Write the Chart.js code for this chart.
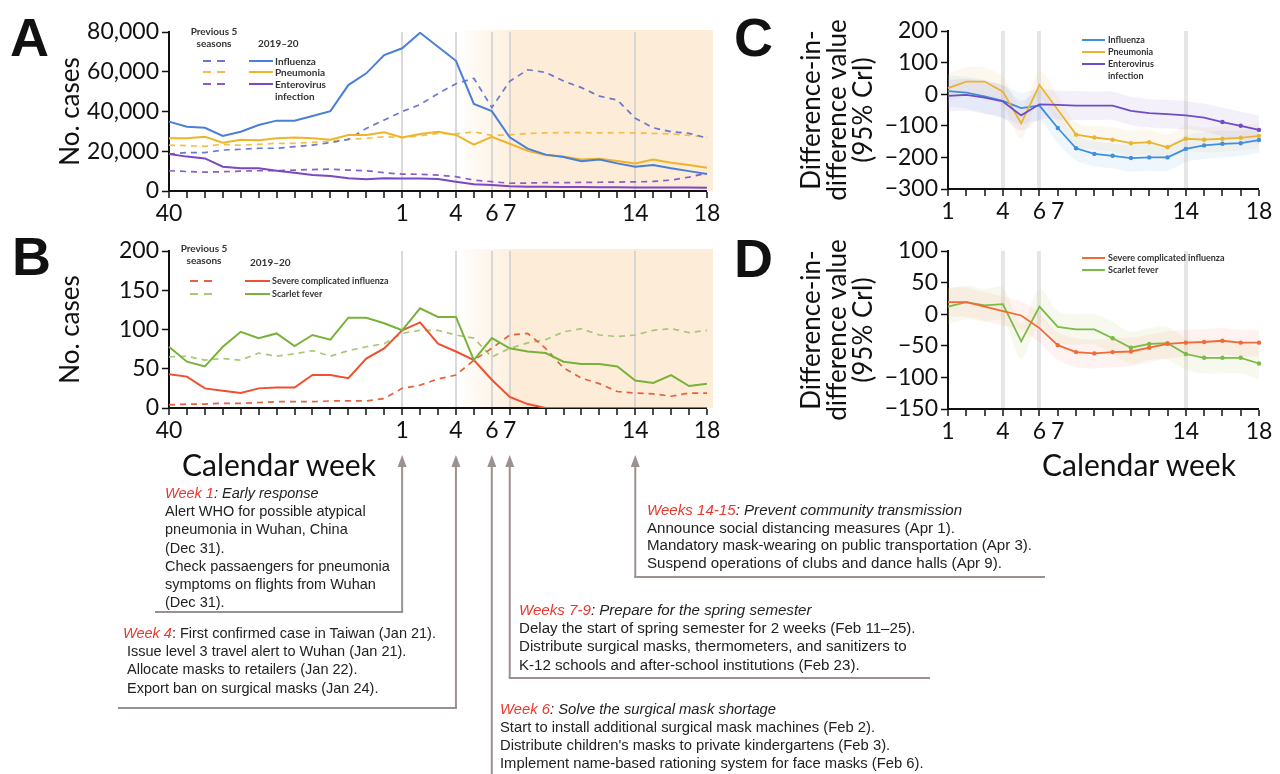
<!DOCTYPE html>
<html>
<head>
<meta charset="utf-8">
<script src="https://cdn.jsdelivr.net/npm/chart.js@4.4.1/dist/chart.umd.min.js"></script>
<style>
  body { margin: 0; width: 1280px; height: 774px; background: #fff; position: relative; overflow: hidden;
         font-family: 'Liberation Sans', Arial, sans-serif; }
  canvas { position: absolute; }
  .panel { position: absolute; font: bold 54px 'Liberation Sans', Arial, sans-serif; line-height: 1; color: #111; z-index: 3; }
  .lg { position: absolute; font: bold 10px Lato, sans-serif; color: #333; white-space: nowrap; line-height: 12px; z-index: 3; }
  .solid { position: absolute; height: 2px; z-index: 3; }
  .dash { position: absolute; height: 2px; z-index: 3; }
  .xtitle { position: absolute; font: 30px Lato, sans-serif; color: #111; white-space: nowrap; z-index: 3; line-height: 1; }
  .note { position: absolute; font-size: 14.5px; color: #222; white-space: nowrap; z-index: 3; }
  .note .wk { color: #e8372c; font-style: italic; }
  .note i { font-style: italic; }
  svg { position: absolute; left: 0; top: 0; z-index: 2; }
</style>
</head>
<body>

<canvas id="grafA" width="740" height="240" style="left:0;top:0"></canvas>
<canvas id="grafB" width="740" height="240" style="left:0;top:220px"></canvas>
<canvas id="grafC" width="560" height="240" style="left:720px;top:0"></canvas>
<canvas id="grafD" width="560" height="240" style="left:720px;top:220px"></canvas>
<svg id="flechas" width="1280" height="774"></svg>

<div class="panel" style="left:10px;top:10px">A</div>
<div class="panel" style="left:12px;top:229px">B</div>
<div class="panel" style="left:734px;top:10px">C</div>
<div class="panel" style="left:734px;top:231px">D</div>

<!-- leyenda A -->
<div class="lg" style="left:183px;top:25px;width:62px;text-align:center">Previous 5<br>seasons</div>
<div class="lg" style="left:258px;top:37px">2019–20</div>
<div class="dash" style="left:203px;top:60px;width:24px;background:repeating-linear-gradient(to right,#6a78d0 0 8px,transparent 8px 14px)"></div>
<div class="solid" style="left:249px;top:60px;width:24px;background:#4a7fd6"></div>
<div class="lg" style="left:275px;top:55px">Influenza</div>
<div class="dash" style="left:203px;top:71px;width:24px;background:repeating-linear-gradient(to right,#f2c04a 0 8px,transparent 8px 14px)"></div>
<div class="solid" style="left:249px;top:71px;width:24px;background:#f0b429"></div>
<div class="lg" style="left:275px;top:66px">Pneumonia</div>
<div class="dash" style="left:203px;top:83px;width:24px;background:repeating-linear-gradient(to right,#8a5cc8 0 8px,transparent 8px 14px)"></div>
<div class="solid" style="left:249px;top:83px;width:24px;background:#7b47c2"></div>
<div class="lg" style="left:275px;top:78px">Enterovirus<br>infection</div>

<!-- leyenda B -->
<div class="lg" style="left:173px;top:242px;width:62px;text-align:center">Previous 5<br>seasons</div>
<div class="lg" style="left:250px;top:256px">2019–20</div>
<div class="dash" style="left:190px;top:280px;width:25px;background:repeating-linear-gradient(to right,#e8603e 0 8px,transparent 8px 14px)"></div>
<div class="solid" style="left:245px;top:280px;width:25px;background:#f0502f"></div>
<div class="lg" style="left:272px;top:275px;font-size:9px">Severe complicated influenza</div>
<div class="dash" style="left:190px;top:293px;width:25px;background:repeating-linear-gradient(to right,#a8c878 0 8px,transparent 8px 14px)"></div>
<div class="solid" style="left:245px;top:293px;width:25px;background:#78b23a"></div>
<div class="lg" style="left:272px;top:288px;font-size:9px">Scarlet fever</div>

<!-- leyenda C -->
<div class="solid" style="left:1082px;top:39px;width:23px;background:#3d8fe0"></div>
<div class="lg" style="left:1108px;top:34px;font-size:9px">Influenza</div>
<div class="solid" style="left:1082px;top:51px;width:23px;background:#e9b530"></div>
<div class="lg" style="left:1108px;top:46px;font-size:9px">Pneumonia</div>
<div class="solid" style="left:1082px;top:63px;width:23px;background:#6f4cc6"></div>
<div class="lg" style="left:1108px;top:58px;font-size:9px">Enterovirus<br>infection</div>

<!-- leyenda D -->
<div class="solid" style="left:1082px;top:257px;width:23px;background:#f26a35"></div>
<div class="lg" style="left:1108px;top:252px;font-size:9px">Severe complicated influenza</div>
<div class="solid" style="left:1082px;top:269px;width:23px;background:#79bb45"></div>
<div class="lg" style="left:1108px;top:264px;font-size:9px">Scarlet fever</div>

<div class="xtitle" style="left:182px;top:449px">Calendar week</div>
<div class="xtitle" style="left:1042px;top:449px">Calendar week</div>

<!-- medidas por semana -->
<div class="note" style="left:165px;top:484px;line-height:18.2px">
  <div><span class="wk">Week 1</span><i>: Early response</i></div>
  <div>Alert WHO for possible atypical</div>
  <div>pneumonia in Wuhan, China</div>
  <div>(Dec 31).</div>
  <div>Check passaengers for pneumonia</div>
  <div>symptoms on flights from Wuhan</div>
  <div>(Dec 31).</div>
</div>
<div class="note" style="left:123px;top:624px;line-height:18.2px">
  <div><span class="wk">Week 4</span>: First confirmed case in Taiwan (Jan 21).</div>
  <div style="padding-left:4px">Issue level 3 travel alert to Wuhan (Jan 21).</div>
  <div style="padding-left:4px">Allocate masks to retailers (Jan 22).</div>
  <div style="padding-left:4px">Export ban on surgical masks (Jan 24).</div>
</div>
<div class="note" style="left:647px;top:501px;line-height:17.6px;font-size:15.1px">
  <div><span class="wk">Weeks 14-15</span><i>: Prevent community transmission</i></div>
  <div>Announce social distancing measures (Apr 1).</div>
  <div>Mandatory mask-wearing on public transportation (Apr 3).</div>
  <div>Suspend operations of clubs and dance halls (Apr 9).</div>
</div>
<div class="note" style="left:519px;top:601px;line-height:18.2px;font-size:15.1px">
  <div><span class="wk">Weeks 7-9</span><i>: Prepare for the spring semester</i></div>
  <div>Delay the start of spring semester for 2 weeks (Feb 11–25).</div>
  <div>Distribute surgical masks, thermometers, and sanitizers to</div>
  <div>K-12 schools and after-school institutions (Feb 23).</div>
</div>
<div class="note" style="left:500px;top:700px;line-height:18.1px;font-size:14.8px">
  <div><span class="wk">Week 6</span><i>: Solve the surgical mask shortage</i></div>
  <div>Start to install additional surgical mask machines (Feb 2).</div>
  <div>Distribute children's masks to private kindergartens (Feb 3).</div>
  <div>Implement name-based rationing system for face masks (Feb 6).</div>
</div>

<script>
// Semanas de la temporada (40 a 52 de 2019, 1 a 18 de 2020)
const semanas = ['40','41','42','43','44','45','46','47','48','49','50','51','52',
                 '1','2','3','4','5','6','7','8','9','10','11','12','13','14','15','16','17','18'];
const semanasEtiqueta = ['40','1','4','6','7','14','18'];
const semanasMarcadas = ['1','4','6','7','14'];

// Panel A: casos semanales 2019-20
const influenza = [34900, 32300, 31800, 27700, 29800, 33200, 35400, 35400, 37700, 40200, 53300, 59200, 68400, 71800, 79600, 72600, 65500, 43800, 40200, 27000, 21300, 18300, 17100, 15000, 15900, 13900, 12200, 13100, 11400, 10000, 8500];
const neumonia = [26500, 26500, 27300, 24300, 25800, 25500, 26500, 26900, 26500, 25800, 28200, 28200, 29500, 26900, 28700, 29800, 28200, 23300, 27300, 23800, 20200, 18100, 17300, 15800, 16200, 15100, 13900, 15900, 14200, 13100, 11700];
const enterovirus = [18600, 17300, 16400, 12200, 11400, 11400, 10200, 9200, 8000, 7500, 6400, 5900, 6400, 6300, 6300, 6000, 4700, 3400, 3000, 2400, 2200, 2100, 2000, 2000, 1900, 1900, 1800, 1800, 1700, 1700, 1600];
// Panel A: promedio de las 5 temporadas previas
const influenzaPrevia = [18600, 19300, 19300, 20600, 21000, 21500, 21500, 22300, 23100, 24300, 26000, 31500, 35700, 40000, 43500, 49000, 54000, 56700, 42000, 55200, 61000, 59700, 55300, 52000, 47700, 45800, 36600, 31800, 29800, 29000, 26700];
const neumoniaPrevia = [23100, 22800, 22500, 23500, 23000, 23500, 24000, 24000, 24500, 25000, 26000, 26500, 27300, 26900, 27700, 29000, 28700, 29800, 28000, 28200, 29000, 29200, 29400, 29400, 29200, 29400, 29200, 29000, 28700, 28000, 27000];
const enterovirusPrevia = [10200, 9800, 9500, 9700, 10000, 10200, 10300, 10500, 10800, 11000, 10500, 10200, 9200, 8500, 8400, 8000, 7200, 5500, 4700, 3900, 4000, 4200, 4200, 4300, 4400, 4500, 4600, 4800, 5500, 7000, 8900];

// Panel B
const gripeGrave = [43, 40, 25, 22, 19, 25, 26, 26, 42, 42, 38, 63, 76, 99, 109, 82, 72, 61, 36, 14, 5, 0, 0, 0, 0, 0, 0, 0, 0, 0, 0];
const escarlatina = [78, 59, 53, 78, 97, 89, 95, 79, 93, 87, 115, 115, 108, 99, 127, 116, 116, 61, 89, 76, 72, 70, 59, 56, 56, 53, 35, 32, 42, 28, 31];
const gripeGravePrevia = [4, 5, 5, 6, 6, 7, 8, 8, 8, 9, 9, 9, 12, 25, 29, 37, 42, 61, 76, 93, 95, 76, 51, 38, 31, 21, 19, 18, 15, 19, 19];
const escarlatinaPrevia = [65, 66, 61, 63, 61, 70, 66, 69, 73, 66, 73, 78, 82, 95, 99, 99, 93, 89, 65, 76, 83, 87, 97, 101, 93, 91, 93, 99, 101, 96, 99];

// Paneles C y D: diferencia en diferencias (semanas 1 a 18) con IC 95%
const semanasDid = ['1','2','3','4','5','6','7','8','9','10','11','12','13','14','15','16','17','18'];
const semanasDidMarcadas = ['4','6','14'];
const didInfluenza = [10, 5, -7, -21, -44, -36, -107, -171, -189, -195, -202, -200, -200, -173, -162, -157, -155, -145];
const didInfluenzaSup = [60, 55, 45, 30, 5, 15, -60, -130, -150, -155, -160, -158, -158, -130, -120, -115, -115, -105];
const didInfluenzaInf = [-40, -45, -60, -75, -95, -85, -155, -210, -228, -235, -245, -242, -242, -215, -205, -200, -195, -185];
const didNeumonia = [19, 40, 40, 8, -92, 29, -49, -128, -137, -144, -155, -152, -168, -141, -144, -141, -138, -132];
const didNeumoniaSup = [65, 85, 85, 55, -45, 75, -5, -90, -100, -105, -115, -112, -128, -100, -105, -100, -98, -92];
const didNeumoniaInf = [-25, -5, -5, -40, -140, -15, -95, -165, -175, -183, -195, -192, -208, -182, -184, -182, -178, -172];
const didEnterovirus = [-5, -2, -11, -23, -67, -32, -34, -36, -36, -36, -53, -60, -63, -67, -74, -88, -100, -113];
const didEnterovirusSup = [45, 48, 40, 28, -20, 15, 12, 10, 8, 8, -8, -15, -18, -22, -30, -42, -55, -68];
const didEnterovirusInf = [-55, -52, -62, -75, -115, -80, -80, -82, -82, -82, -98, -105, -108, -112, -118, -134, -145, -158];

const didGripeGrave = [19, 19, 12, 5, -2, -22, -49, -60, -62, -60, -59, -53, -47, -45, -44, -42, -45, -45];
const didGripeGraveSup = [42, 42, 35, 28, 20, 2, -28, -38, -40, -38, -37, -32, -27, -25, -24, -22, -25, -25];
const didGripeGraveInf = [-4, -4, -11, -18, -25, -45, -72, -84, -86, -84, -82, -76, -70, -67, -66, -64, -67, -67];
const didEscarlatina = [12, 19, 14, 16, -43, 12, -20, -24, -24, -38, -53, -47, -46, -63, -69, -69, -69, -78];
const didEscarlatinaSup = [40, 45, 40, 42, -15, 40, 5, 0, 0, -12, -28, -22, -20, -38, -44, -44, -44, -52];
const didEscarlatinaInf = [-16, -8, -12, -10, -70, -16, -45, -48, -48, -64, -78, -72, -72, -88, -94, -94, -94, -104];

Chart.defaults.font.family = 'Lato';
Chart.defaults.color = '#111';
Chart.defaults.animation = false;

const fuenteTicks = { family: 'Lato', size: 23 };
const menos = v => (v < 0 ? '\u2212' + Math.abs(v) : String(v));

// Sombreado beige del periodo de intervenciones (paneles A y B)
const sombreado = {
  id: 'sombreado',
  beforeDraw(chart) {
    const { ctx, chartArea: a, scales: { x } } = chart;
    const x4 = x.getPixelForValue(semanas.indexOf('4')) + 8;
    const x7 = x.getPixelForValue(semanas.indexOf('7'));
    ctx.save();
    const g = ctx.createLinearGradient(x4, 0, x7, 0);
    g.addColorStop(0, 'rgba(252,236,214,0.15)');
    g.addColorStop(1, 'rgba(252,236,214,0.75)');
    ctx.fillStyle = g;
    ctx.fillRect(x4, a.top - 2, x7 - x4, a.bottom - a.top + 2);
    ctx.fillStyle = 'rgba(251,233,209,0.85)';
    ctx.fillRect(x7, a.top - 2, a.right + 6 - x7, a.bottom - a.top + 2);
    ctx.restore();
  }
};

function ejeSemanas(etiquetas, marcadas, conEtiqueta, grosor, colorLinea) {
  return {
    type: 'category',
    afterFit: null,
    border: { display: true, color: '#111', width: 2 },
    grid: {
      drawOnChartArea: true,
      color: c => (c.tick && marcadas.includes(etiquetas[c.index]) ? colorLinea : 'rgba(0,0,0,0)'),
      lineWidth: c => (c.tick && marcadas.includes(etiquetas[c.index]) ? grosor : 0),
      tickColor: '#111',
      tickLength: 7,
      tickWidth: 1.5
    },
    ticks: {
      autoSkip: false, maxRotation: 0, minRotation: 0, padding: 2,
      font: fuenteTicks, color: '#111',
      callback: (v, i) => (conEtiqueta.includes(etiquetas[i]) ? etiquetas[i] : '')
    }
  };
}

function linea(datos, color, discontinua) {
  return {
    data: datos, borderColor: color, borderWidth: discontinua ? 1.7 : 2,
    borderDash: discontinua ? [6, 5] : [], pointRadius: 0, tension: 0, fill: false
  };
}

function graficoCasos(id, series, yMax, yPaso, alturaX, formato) {
  const ejeX = ejeSemanas(semanas, semanasMarcadas, semanasEtiqueta, 2, 'rgba(205,205,205,0.75)');
  ejeX.afterFit = s => { s.height = alturaX; };
  return new Chart(document.getElementById(id), {
    type: 'line',
    data: { labels: semanas, datasets: series },
    options: {
      responsive: false,
      layout: { padding: { left: 0, right: 33, top: id === 'grafA' ? 32 : 31, bottom: 0 } },
      plugins: { legend: { display: false }, tooltip: { enabled: false } },
      scales: {
        x: ejeX,
        y: {
          min: 0, max: yMax,
          afterFit: s => { s.width = 169; },
          border: { display: true, color: '#111', width: 2 },
          grid: { drawOnChartArea: false, tickColor: '#111', tickLength: 7, tickWidth: 1.5 },
          ticks: { stepSize: yPaso, font: fuenteTicks, color: '#111', padding: 3, callback: formato },
          title: { display: true, text: 'No. cases', font: { family: 'Lato', size: 26 }, color: '#111', padding: { top: 55, bottom: 0 } }
        }
      }
    },
    plugins: [sombreado]
  });
}

const graficoA = graficoCasos('grafA', [
  linea(influenza, '#4a7fd6', false),
  linea(neumonia, '#f0b429', false),
  linea(enterovirus, '#7b47c2', false),
  linea(influenzaPrevia, '#6a78d0', true),
  linea(neumoniaPrevia, '#f2c04a', true),
  linea(enterovirusPrevia, '#8a5cc8', true)
], 80000, 20000, 49, v => v.toLocaleString('en-US'));

const graficoB = graficoCasos('grafB', [
  linea(escarlatina, '#78b23a', false),
  linea(gripeGrave, '#f0502f', false),
  linea(gripeGravePrevia, '#e8603e', true),
  linea(escarlatinaPrevia, '#a8c878', true)
], 200, 50, 52, v => String(v));

// Series con banda de credibilidad: línea + límite superior + límite inferior relleno
function serieDid(media, sup, inf, color, relleno, desdePunto) {
  const punto = c => (c.dataIndex >= desdePunto ? 2.2 : 0);
  return [
    { data: media, borderColor: color, borderWidth: 1.8, pointRadius: punto, pointBackgroundColor: color,
      pointBorderWidth: 0, tension: 0, fill: false },
    { data: sup, borderWidth: 0, pointRadius: 0, fill: false, tension: 0.3 },
    { data: inf, borderWidth: 0, pointRadius: 0, fill: '-1', backgroundColor: relleno, tension: 0.3 }
  ];
}

function graficoDid(id, series, yMin, yMax, yPaso) {
  const ejeX = ejeSemanas(semanasDid, semanasDidMarcadas, semanasEtiqueta, 4, 'rgba(200,200,200,0.45)');
  ejeX.afterFit = s => { s.height = 51; };
  // las líneas van primero para que queden sobre las bandas
  const lineas = series.filter((d, i) => i % 3 === 0);
  const bandas = series.filter((d, i) => i % 3 !== 0);
  return new Chart(document.getElementById(id), {
    type: 'line',
    data: { labels: semanasDid, datasets: lineas.concat(bandas) },
    options: {
      responsive: false,
      layout: { padding: { left: 0, right: 21, top: 31, bottom: 0 } },
      plugins: { legend: { display: false }, tooltip: { enabled: false } },
      scales: {
        x: ejeX,
        y: {
          min: yMin, max: yMax,
          afterFit: s => { s.width = 228; },
          border: { display: true, color: '#111', width: 2 },
          grid: { drawOnChartArea: false, tickColor: '#111', tickLength: 7, tickWidth: 1.5 },
          ticks: { stepSize: yPaso, font: fuenteTicks, color: '#111', padding: 3, callback: menos },
          title: {
            display: true, text: ['Difference-in-', 'difference value', '(95% CrI)'],
            font: { family: 'Lato', size: 26, lineHeight: 1.0 }, color: '#111', padding: { top: 79, bottom: 0 }
          }
        }
      }
    }
  });
}

const graficoC = graficoDid('grafC', [
  ...serieDid(didEnterovirus, didEnterovirusSup, didEnterovirusInf, '#6f4cc6', 'rgba(170,140,210,0.13)', 15),
  ...serieDid(didNeumonia, didNeumoniaSup, didNeumoniaInf, '#e9b530', 'rgba(240,200,120,0.12)', 7),
  ...serieDid(didInfluenza, didInfluenzaSup, didInfluenzaInf, '#3d8fe0', 'rgba(130,190,240,0.13)', 6)
], -300, 200, 100);

const graficoD = graficoDid('grafD', [
  ...serieDid(didGripeGrave, didGripeGraveSup, didGripeGraveInf, '#f26a35', 'rgba(250,160,140,0.13)', 6),
  ...serieDid(didEscarlatina, didEscarlatinaSup, didEscarlatinaInf, '#79bb45', 'rgba(200,215,140,0.15)', 9)
], -150, 100, 50);

// Flechas desde los recuadros de medidas hasta la semana correspondiente del panel B
function dibujarFlechas() {
  const svg = document.getElementById('flechas');
  const x = graficoB.scales.x;
  const px = s => x.getPixelForValue(semanas.indexOf(s));
  const color = '#9b918f';
  const tramos = [
    { semana: '1', fin: 612, desde: 155 },
    { semana: '4', fin: 708, desde: 118 },
    { semana: '6', fin: 774, desde: null },
    { semana: '7', fin: 678, hasta: 930 },
    { semana: '14', fin: 577, hasta: 1045 }
  ];
  let html = '';
  tramos.forEach(t => {
    const xs = px(t.semana);
    html += `<line x1="${xs}" y1="462" x2="${xs}" y2="${t.fin}" stroke="${color}" stroke-width="2"/>`;
    html += `<polygon points="${xs},455 ${xs - 4.5},467 ${xs + 4.5},467" fill="${color}"/>`;
    if (t.desde) html += `<line x1="${t.desde}" y1="${t.fin}" x2="${xs + 1}" y2="${t.fin}" stroke="${color}" stroke-width="2"/>`;
    if (t.hasta) html += `<line x1="${xs - 1}" y1="${t.fin}" x2="${t.hasta}" y2="${t.fin}" stroke="${color}" stroke-width="2"/>`;
  });
  svg.innerHTML = html;
}
dibujarFlechas();
</script>
</body>
</html>
